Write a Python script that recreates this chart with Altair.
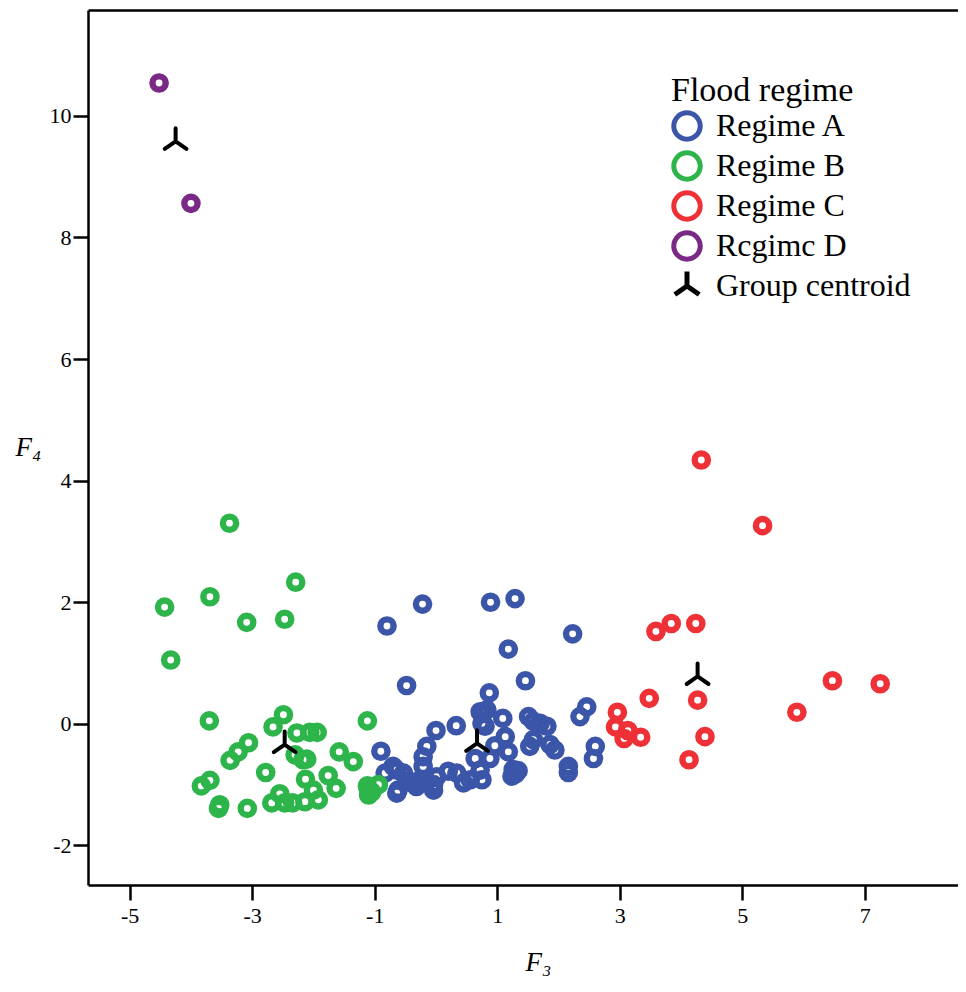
import altair as alt
import pandas as pd

# ---------------- data ----------------
groups = ["Regime A", "Regime B", "Regime C", "Rcgimc D", "Group centroid"]
colors = ["#3b55a8", "#2db44a", "#ee3137", "#7a2a84", "#000000"]

a_x = [-0.22, -0.80, 0.89, 1.29, 2.23, 1.18, -0.48, 1.46, 0.87,
       2.46, 2.35, 0.72, 0.77, 0.83, 1.09, 0.33, 0.00, 0.75, 0.80,
       1.51, 1.59, 1.70, 1.81, 1.13, -0.15, -0.90, 0.96, 1.18,
       1.53, 1.59, 1.86, 1.94, 2.60, 2.57, 0.64, 0.88, -0.21, -0.21,
       2.16, 2.16, 1.26, 1.34, 1.24, 1.30, 0.72, 0.75, 0.45, 0.20,
       0.56, 0.34, -0.83, -0.64, -0.53, -0.62, -0.48, -0.32, -0.04,
       -0.04, -0.64, -0.70, -0.26, -0.15, -0.37, 0.01]
a_y = [1.97, 1.61, 2.00, 2.06, 1.48, 1.23, 0.63, 0.71, 0.51,
       0.28, 0.12, 0.20, 0.18, 0.23, 0.09, -0.03, -0.11, 0.01, -0.04,
       0.12, 0.04, 0.01, -0.04, -0.21, -0.37, -0.45, -0.36, -0.46,
       -0.37, -0.26, -0.34, -0.43, -0.37, -0.57, -0.57, -0.57, -0.54, -0.70,
       -0.70, -0.80, -0.75, -0.77, -0.86, -0.82, -0.76, -0.92, -0.97, -0.78,
       -0.92, -0.81, -0.81, -0.76, -0.81, -1.09, -0.95, -1.03, -1.00,
       -1.09, -1.14, -0.70, -0.92, -0.95, -0.98, -0.87]

b_x = [-3.37, -2.29, -3.69, -4.43, -3.09, -2.47, -4.33,
       -3.70, -2.49, -2.66, -2.27, -2.06, -1.94, -1.12,
       -3.06, -3.23, -3.36, -2.30, -2.17, -2.11,
       -1.58, -1.35, -2.78, -2.13, -1.76, -1.63,
       -3.69, -3.83, -3.53, -3.55, -3.08, -2.68, -2.55,
       -2.47, -2.34, -2.14, -2.00, -1.92,
       -1.10, -1.10, -0.94, -1.12, -1.05]
b_y = [3.30, 2.33, 2.09, 1.92, 1.67, 1.72, 1.05,
       0.05, 0.15, -0.05, -0.15, -0.14, -0.14, 0.05,
       -0.31, -0.46, -0.60, -0.51, -0.59, -0.58,
       -0.46, -0.62, -0.80, -0.91, -0.85, -1.06,
       -0.93, -1.02, -1.33, -1.39, -1.39, -1.30, -1.15,
       -1.30, -1.30, -1.28, -1.09, -1.25,
       -1.09, -1.17, -1.00, -1.02, -1.12]

c_x = [4.33, 5.33, 3.59, 3.84, 4.24, 6.47, 7.25, 5.89, 3.48, 4.27,
       2.96, 2.93, 3.13, 3.07, 3.34, 4.39, 4.13]
c_y = [4.34, 3.26, 1.52, 1.65, 1.65, 0.71, 0.66, 0.19, 0.42, 0.39,
       0.19, -0.05, -0.11, -0.24, -0.22, -0.21, -0.59]

d_x = [-4.52, -4.00]
d_y = [10.54, 8.56]

cen_x = [0.67, -2.47, 4.27, -4.25]
cen_y = [-0.32, -0.34, 0.78, 9.58]

x_ticks = [-5, -3, -1, 1, 3, 5, 7]
y_ticks = [-2, 0, 2, 4, 6, 8, 10]

# ---------------- table ----------------
rows = []
for g, xs, ys in [(groups[0], a_x, a_y), (groups[1], b_x, b_y),
                  (groups[2], c_x, c_y), (groups[3], d_x, d_y),
                  (groups[4], cen_x, cen_y)]:
    kind = "centroid" if g == groups[4] else "case"
    rows += [{"F3": x, "F4": y, "group": g, "kind": kind}
             for x, y in zip(xs, ys)]
df = pd.DataFrame(rows)

FONT = "Liberation Serif"
tri = "M0,0L0,-1.1M0,0L-0.92,0.64M0,0L0.92,0.64"

xscale = alt.Scale(domain=[-5.68, 8.52], nice=False, zero=False)
yscale = alt.Scale(domain=[-2.65, 11.74], nice=False, zero=False)

legend = alt.Legend(
    title="Flood regime", orient="none", legendX=583, legendY=64,
    titleFont=FONT, titleFontSize=34, titleFontWeight="normal", titleColor="black",
    titleLimit=500, titlePadding=2, labelFont=FONT, labelFontSize=32,
    labelColor="black", labelLimit=400, labelOffset=13, rowPadding=-12,
    padding=0, symbolSize=700, symbolStrokeWidth=5, symbolOffset=0,
)

frame = alt.Chart(df).mark_point(opacity=0).encode(
    x=alt.X("F3:Q", scale=xscale,
            axis=alt.Axis(orient="top", ticks=False, labels=False, title=None,
                          domainColor="black", domainWidth=2.5, grid=False))
)

points = alt.Chart(df).mark_point(filled=False, opacity=1, strokeCap="round").encode(
    x=alt.X("F3:Q", scale=xscale,
            axis=alt.Axis(orient="bottom", values=x_ticks, title="F₃",
                          labelExpr="toString(datum.value)",
                          titleX=437, titleY=85, titleAlign="left",
                          titleBaseline="alphabetic", titleFont=FONT,
                          titleFontStyle="italic", titleFontSize=27,
                          titleFontWeight="normal", titleColor="black",
                          labelFont=FONT, labelFontSize=22, labelColor="black",
                          labelPadding=5, tickSize=15, tickWidth=2.5,
                          tickColor="black", domainColor="black",
                          domainWidth=2.5, grid=False)),
    y=alt.Y("F4:Q", scale=yscale,
            axis=alt.Axis(values=y_ticks, title="F₄", titleAngle=0,
                          labelExpr="toString(datum.value)",
                          titleX=-73, titleY=445, titleAlign="left",
                          titleBaseline="alphabetic", titleFont=FONT,
                          titleFontStyle="italic", titleFontSize=27,
                          titleFontWeight="normal", titleColor="black",
                          labelFont=FONT, labelFontSize=22, labelColor="black",
                          labelPadding=2, tickSize=15, tickWidth=2.5,
                          tickColor="black", domainColor="black",
                          domainWidth=2.5, grid=False)),
    color=alt.Color("group:N", scale=alt.Scale(domain=groups, range=colors),
                    legend=legend, sort=groups),
    shape=alt.Shape("group:N",
                    scale=alt.Scale(domain=groups,
                                    range=["circle"] * 4 + [tri]),
                    legend=legend, sort=groups),
    size=alt.Size("kind:N", scale=alt.Scale(type="ordinal",
                                            domain=["case", "centroid"],
                                            range=[175, 560]),
                  legend=None),
    strokeWidth=alt.StrokeWidth("kind:N",
                                scale=alt.Scale(type="ordinal",
                                                domain=["case", "centroid"],
                                                range=[6.4, 4.0]),
                                legend=None),
)

chart = (
    alt.layer(frame, points)
    .resolve_axis(x="independent")
    .properties(width=870, height=875,
                autosize=alt.AutoSizeParams(type="none"),
                padding={"left": 80, "top": 2, "right": 0, "bottom": 93},
                background="white")
    .configure_view(stroke=None)
)

chart.save("out.html", embed_options={"renderer": "svg", "actions": False})
